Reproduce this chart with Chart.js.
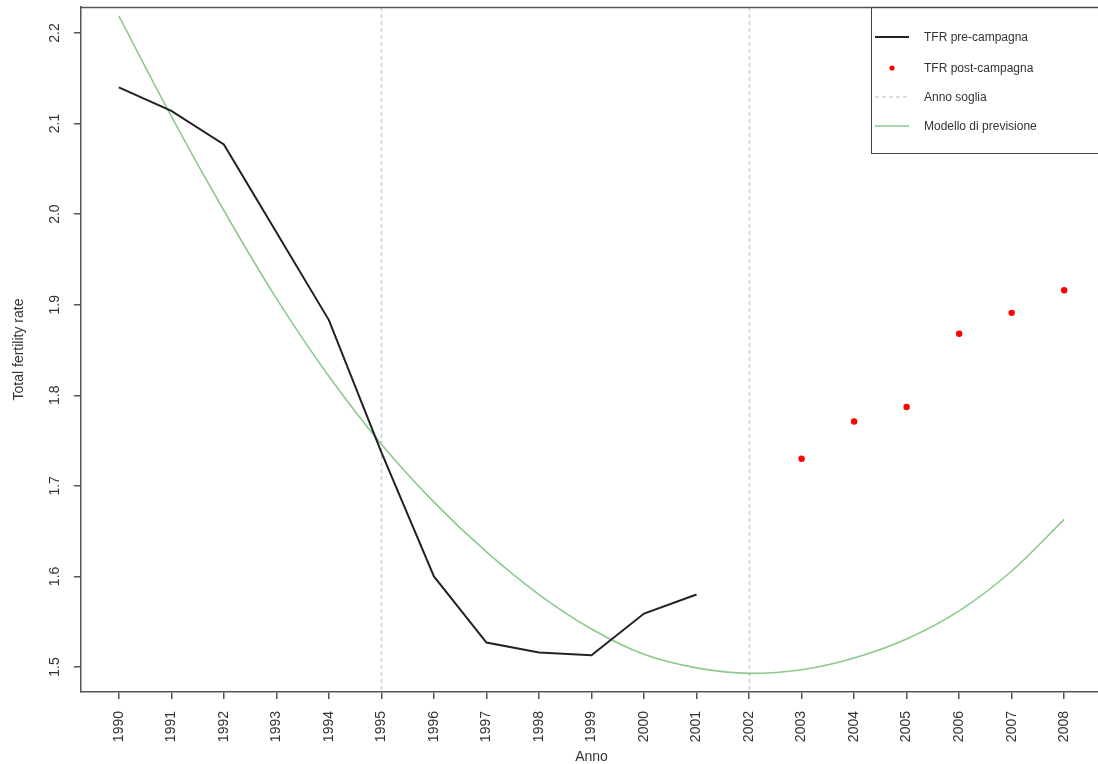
<!DOCTYPE html>
<html>
<head>
<meta charset="utf-8">
<script src="https://cdn.jsdelivr.net/npm/chart.js@4/dist/chart.umd.min.js"></script>
<style>
  html, body { margin: 0; padding: 0; background: #fff; overflow: hidden; }
  #wrap { position: relative; width: 1106px; height: 764px; }
</style>
</head>
<body>
<div id="wrap"><canvas id="c"></canvas></div>
<script>
// ---- data ----
const preYears = [1990, 1991, 1992, 1993, 1994, 1995, 1996, 1997, 1998, 1999, 2000, 2001];
const tfrPre = [2.140, 2.114, 2.077, 1.980, 1.883, 1.737, 1.600, 1.527, 1.516, 1.513, 1.559, 1.580];

const postYears = [2003, 2004, 2005, 2006, 2007, 2008];
const tfrPost = [1.730, 1.771, 1.787, 1.868, 1.891, 1.916];

const modelYears = [1990, 1991, 1992, 1993, 1994, 1995, 1996, 1997, 1998, 1999,
                    2000, 2001, 2002, 2003, 2004, 2005, 2006, 2007, 2008];
const modelValues = [2.219, 2.108, 2.004, 1.907, 1.821, 1.746, 1.682, 1.627, 1.580, 1.542,
                     1.514, 1.499, 1.493, 1.497, 1.510, 1.531, 1.562, 1.606, 1.663];

const thresholdYears = [1995, 2002];

const xTicks = [1990, 1991, 1992, 1993, 1994, 1995, 1996, 1997, 1998, 1999,
                2000, 2001, 2002, 2003, 2004, 2005, 2006, 2007, 2008];
const yTicks = [1.5, 1.6, 1.7, 1.8, 1.9, 2.0, 2.1, 2.2];
const yTickLabels = ['1.5', '1.6', '1.7', '1.8', '1.9', '2.0', '2.1', '2.2'];

const legendLabels = ['TFR pre-campagna', 'TFR post-campagna', 'Anno soglia', 'Modello di previsione'];
const xTitle = 'Anno';
const yTitle = 'Total fertility rate';

// ---- styles ----
const AXIS_COLOR = '#555';
const TEXT_COLOR = '#333';
const GREEN = '#8cca8c';
const DASH_COLOR = '#d2d2d2';
const FONT = '"Liberation Sans", Arial, sans-serif';

const toXY = (xs, ys) => xs.map((x, i) => ({ x: x, y: ys[i] }));

const decorPlugin = {
  id: 'decor',
  beforeDatasetsDraw(chart) {
    const ctx = chart.ctx, a = chart.chartArea, xs = chart.scales.x;
    ctx.save();
    ctx.strokeStyle = DASH_COLOR;
    ctx.lineWidth = 1.6;
    ctx.setLineDash([4, 3]);
    thresholdYears.forEach(yr => {
      const px = Math.round(xs.getPixelForValue(yr)) + 0.5;
      ctx.beginPath();
      ctx.moveTo(px, a.top);
      ctx.lineTo(px, a.bottom);
      ctx.stroke();
    });
    ctx.restore();
  },
  afterDraw(chart) {
    const ctx = chart.ctx, a = chart.chartArea, ys = chart.scales.y;
    ctx.save();
    // top and right frame
    ctx.strokeStyle = AXIS_COLOR;
    ctx.lineWidth = 1.5;
    ctx.beginPath();
    ctx.moveTo(a.left, a.top + 0.5);
    ctx.lineTo(a.right, a.top + 0.5);
    ctx.lineTo(a.right, a.bottom);
    ctx.stroke();

    // y tick labels (rotated, as in R)
    ctx.fillStyle = TEXT_COLOR;
    ctx.font = '14px ' + FONT;
    ctx.textAlign = 'center';
    ctx.textBaseline = 'middle';
    yTicks.forEach((v, i) => {
      const py = ys.getPixelForValue(v);
      ctx.save();
      ctx.translate(55, py);
      ctx.rotate(-Math.PI / 2);
      ctx.fillText(yTickLabels[i], 0, 0);
      ctx.restore();
    });

    // axis titles
    ctx.save();
    ctx.translate(19, (a.top + a.bottom) / 2);
    ctx.rotate(-Math.PI / 2);
    ctx.fillText(yTitle, 0, 0);
    ctx.restore();
    ctx.fillText(xTitle, (a.left + a.right) / 2, 757);

    // legend
    const L = 871.5, T = 7.5, R = a.right, B = 153.5;
    ctx.strokeStyle = '#444';
    ctx.lineWidth = 1;
    ctx.strokeRect(L, T, R - L, B - T);
    const rows = [37, 68, 97, 126];
    const x0 = 875, x1 = 909;
    ctx.strokeStyle = '#222'; ctx.lineWidth = 2;
    ctx.beginPath(); ctx.moveTo(x0, rows[0]); ctx.lineTo(x1, rows[0]); ctx.stroke();
    ctx.fillStyle = '#ff0000';
    ctx.beginPath(); ctx.arc(892, rows[1], 2.6, 0, Math.PI * 2); ctx.fill();
    ctx.strokeStyle = DASH_COLOR; ctx.lineWidth = 1.3; ctx.setLineDash([4, 3]);
    ctx.beginPath(); ctx.moveTo(x0, rows[2]); ctx.lineTo(x1, rows[2]); ctx.stroke();
    ctx.setLineDash([]);
    ctx.strokeStyle = GREEN; ctx.lineWidth = 1.6;
    ctx.beginPath(); ctx.moveTo(x0, rows[3]); ctx.lineTo(x1, rows[3]); ctx.stroke();
    ctx.fillStyle = TEXT_COLOR;
    ctx.font = '12px ' + FONT;
    ctx.textAlign = 'left';
    ctx.textBaseline = 'middle';
    legendLabels.forEach((t, i) => ctx.fillText(t, 924, rows[i] + 1));
    ctx.restore();
  }
};

new Chart(document.getElementById('c'), {
  type: 'scatter',
  data: {
    datasets: [
      {
        label: legendLabels[3],
        data: toXY(modelYears, modelValues),
        showLine: true,
        borderColor: GREEN,
        borderWidth: 1.6,
        pointRadius: 0,
        cubicInterpolationMode: 'monotone',
        fill: false,
        order: 3
      },
      {
        label: legendLabels[0],
        data: toXY(preYears, tfrPre),
        showLine: true,
        borderColor: '#222',
        borderWidth: 2,
        pointRadius: 0,
        tension: 0,
        fill: false,
        order: 2
      },
      {
        label: legendLabels[1],
        data: toXY(postYears, tfrPost),
        showLine: false,
        backgroundColor: '#ff0000',
        borderColor: '#ff0000',
        borderWidth: 0,
        pointRadius: 3.2,
        order: 1
      }
    ]
  },
  options: {
    responsive: true,
    maintainAspectRatio: false,
    animation: false,
    devicePixelRatio: 1,
    layout: { padding: { top: 7, right: 1, left: 0, bottom: 0 } },
    plugins: { legend: { display: false }, tooltip: { enabled: false } },
    scales: {
      x: {
        type: 'linear',
        min: 1989.28,
        max: 2008.72,
        afterBuildTicks: s => { s.ticks = xTicks.map(v => ({ value: v })); },
        afterFit: s => { s.height = 72; },
        grid: { drawOnChartArea: false, drawTicks: true, tickLength: 7, color: AXIS_COLOR, lineWidth: 1.5 },
        border: { display: true, color: AXIS_COLOR, width: 1.5 },
        ticks: {
          autoSkip: false,
          minRotation: 90,
          maxRotation: 90,
          padding: 12,
          color: TEXT_COLOR,
          font: { family: FONT, size: 14 },
          callback: v => String(v)
        }
      },
      y: {
        type: 'linear',
        min: 1.4724,
        max: 2.2287,
        afterBuildTicks: s => { s.ticks = yTicks.map(v => ({ value: v })); },
        afterFit: s => { s.width = 81; },
        grid: { drawOnChartArea: false, drawTicks: true, tickLength: 7, color: AXIS_COLOR, lineWidth: 1.5 },
        border: { display: true, color: AXIS_COLOR, width: 1.5 },
        ticks: { display: false }
      }
    }
  },
  plugins: [decorPlugin]
});
</script>
</body>
</html>
